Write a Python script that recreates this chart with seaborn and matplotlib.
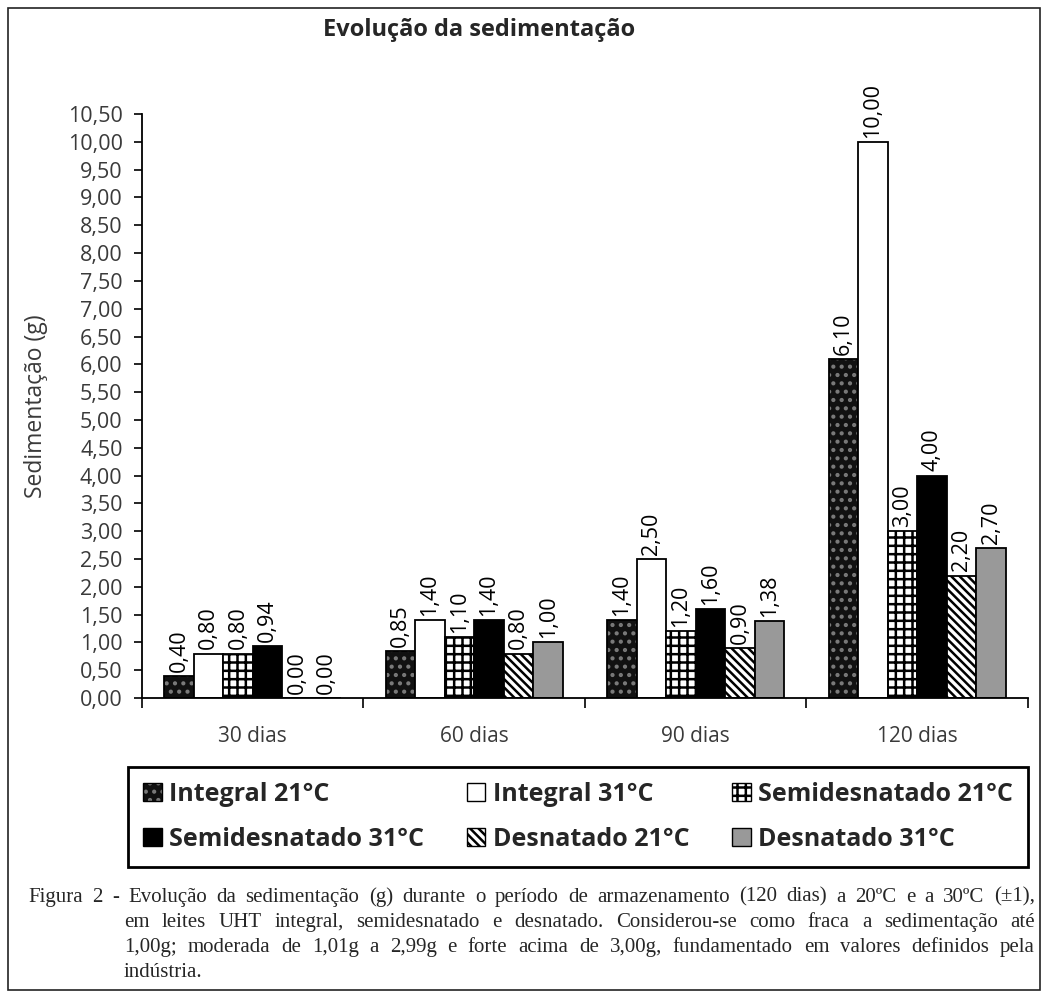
import matplotlib
matplotlib.use("Agg")
import matplotlib.pyplot as plt
import matplotlib.patches as mpatches
import seaborn as sns
import pandas as pd
from matplotlib.colors import to_rgba

# data
periods = ["30 dias", "60 dias", "90 dias", "120 dias"]
series = ["Integral 21°C", "Integral 31°C", "Semidesnatado 21°C",
          "Semidesnatado 31°C", "Desnatado 21°C", "Desnatado 31°C"]
integral_21 = [0.40, 0.85, 1.40, 6.10]
integral_31 = [0.80, 1.40, 2.50, 10.00]
semi_21 = [0.80, 1.10, 1.20, 3.00]
semi_31 = [0.94, 1.40, 1.60, 4.00]
desn_21 = [0.00, 0.80, 0.90, 2.20]
desn_31 = [0.00, 1.00, 1.38, 2.70]
y_ticks = [i * 0.5 for i in range(22)]

caption = [
    "Figura 2 - Evolução da sedimentação (g) durante o período de armazenamento (120 dias) a 20ºC e a 30ºC (±1),",
    "em leites UHT integral, semidesnatado e desnatado. Considerou-se como fraca a sedimentação até",
    "1,00g; moderada de 1,01g a 2,99g e forte acima de 3,00g, fundamentado em valores definidos pela",
    "indústria.",
]

values = [integral_21, integral_31, semi_21, semi_31, desn_21, desn_31]
rows = []
for s, vals in zip(series, values):
    for p, v in zip(periods, vals):
        rows.append({"periodo": p, "serie": s, "valor": v})
df = pd.DataFrame(rows)

# fill, edge, hatch, hatch colour for each series
styles = [
    ("#111111", "black", "..", "#7a7a7a"),
    ("white", "black", "", "black"),
    ("white", "black", "++", "black"),
    ("black", "black", "", "black"),
    ("white", "black", "\\\\\\\\", "black"),
    ("#999999", "black", "", "black"),
]

sns.set_style("white")
plt.rcParams["font.family"] = ["Open Sans", "DejaVu Sans"]
plt.rcParams["hatch.linewidth"] = 1.8

fig = plt.figure(figsize=(10.48, 9.96), dpi=100)
ax = fig.add_axes([0.1355, 0.2992, 0.8454, 0.5863])

sns.barplot(data=df, x="periodo", y="valor", hue="serie", order=periods,
            hue_order=series, width=0.8, ax=ax, legend=False)


def style_patch(p, st):
    face, edge, hatch, hcol = st
    p.set_facecolor(face)
    p.set_edgecolor(edge)
    p.set_linewidth(1.3)
    p.set_hatch(hatch)
    if hasattr(p, "set_hatchcolor"):
        p.set_hatchcolor(hcol)
    else:
        p._hatch_color = to_rgba(hcol)


for cont, st in zip(ax.containers, styles):
    for p in cont:
        style_patch(p, st)
    ax.bar_label(cont, labels=[f"{v:.2f}".replace(".", ",") for v in cont.datavalues],
                 rotation=90, padding=3, fontsize=15.5, color="black")

ax.set_ylim(0, 10.5)
ax.set_xlim(-0.5, 3.5)
ax.set_yticks(y_ticks)
ax.set_yticklabels([f"{t:.2f}".replace(".", ",") for t in y_ticks])
ax.set_xticks(range(len(periods)))
ax.set_xticklabels(periods)
ax.set_xticks([i - 0.5 for i in range(len(periods) + 1)], minor=True)
ax.tick_params(axis="y", length=6, width=1.2, pad=8, labelsize=15.5,
               labelcolor="#3a3a3a", left=True, color="black")
ax.tick_params(axis="x", which="major", length=0, pad=20, labelsize=15,
               labelcolor="#3a3a3a")
ax.tick_params(axis="x", which="minor", length=7, width=1.2, bottom=True,
               color="black")
sns.despine(ax=ax)
ax.spines["left"].set_linewidth(1.3)
ax.spines["bottom"].set_linewidth(1.3)
ax.spines["left"].set_color("black")
ax.spines["bottom"].set_color("black")
ax.set_xlabel("")
ax.set_ylabel("Sedimentação (g)", fontsize=16.5, color="#3a3a3a")
ax.yaxis.set_label_coords(-0.106, 0.5)

fig.text(0.457, 1 - 30 / 996, "Evolução da sedimentação", ha="center",
         va="center", fontsize=17, fontweight="bold")

# legend, row-wise order
handles = []
for st in styles:
    h = mpatches.Patch(label="x")
    style_patch(h, st)
    h.set_linewidth(1.0)
    handles.append(h)
order = [0, 3, 1, 4, 2, 5]
leg = fig.legend([handles[i] for i in order], [series[i] for i in order],
                 loc="upper left", bbox_to_anchor=(128 / 1048, 1 - 767 / 996, 900 / 1048, 0),
                 mode="expand", ncol=3, borderaxespad=0, fancybox=False,
                 frameon=True, edgecolor="black", framealpha=1,
                 prop={"weight": "bold", "size": 18},
                 handlelength=0.75, handleheight=0.75, handletextpad=0.3,
                 labelspacing=0.8, borderpad=0.6, columnspacing=0.5)
leg.get_frame().set_linewidth(2.0)

# outer frame
fig.add_artist(mpatches.Rectangle((8 / 1048, 6 / 996), 1032 / 1048, 982 / 996,
                                  transform=fig.transFigure, fill=False,
                                  edgecolor="#222222", linewidth=1.2))

# caption, justified lines
cap_font = {"family": "Liberation Serif", "size": 15}
renderer = fig.canvas.get_renderer()
x_right = 1035
line_y = [897, 922, 947, 972]
for i, line in enumerate(caption):
    x_left = 28 if i == 0 else 124
    words = line.split(" ")
    texts = [fig.text(0, 1 - line_y[i] / 996, w, ha="left", va="center", **cap_font)
             for w in words]
    widths = [t.get_window_extent(renderer).width for t in texts]
    if i < len(caption) - 1 and len(words) > 1:
        gap = (x_right - x_left - sum(widths)) / (len(words) - 1)
    else:
        gap = 4.5
    x = x_left
    for t, w in zip(texts, widths):
        t.set_x(x / 1048)
        x += w + gap

fig.savefig("out.png", dpi=100)
